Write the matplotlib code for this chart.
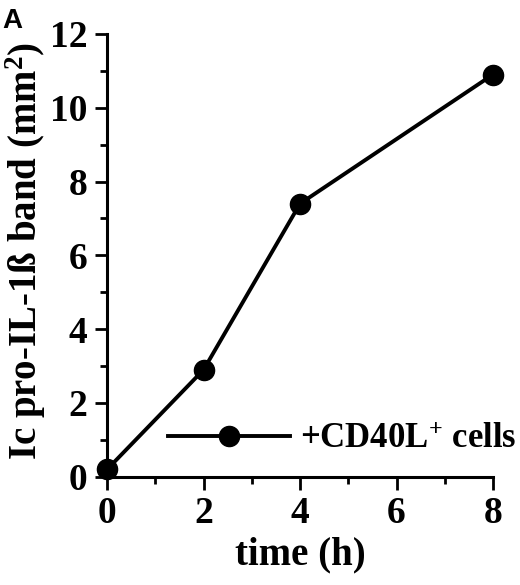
import matplotlib
matplotlib.use("Agg")
import matplotlib.pyplot as plt
from matplotlib.ticker import MultipleLocator

# datos
tiempo = [0, 2, 4, 8]
banda = [0.2, 2.9, 7.4, 10.9]
xticks = [0, 2, 4, 6, 8]
yticks = [0, 2, 4, 6, 8, 10, 12]

plt.rcParams['font.family'] = ['Liberation Serif', 'DejaVu Serif']
plt.rcParams['font.weight'] = 'bold'
plt.rcParams['mathtext.fontset'] = 'custom'
plt.rcParams['mathtext.rm'] = 'Liberation Serif:bold'
plt.rcParams['mathtext.it'] = 'Liberation Serif:bold'
plt.rcParams['mathtext.bf'] = 'Liberation Serif:bold'

fig = plt.figure(figsize=(5.2, 5.85), dpi=100)
ax = fig.add_axes([0.206, 0.185, 0.742, 0.757])

ax.plot(tiempo, banda, color='black', lw=2.8, marker='o', ms=14.5,
        label='+CD40L$^{+}$ cells', clip_on=False, zorder=5)

ax.set_xlim(0, 8)
ax.set_ylim(0, 12)
ax.set_xticks(xticks)
ax.set_yticks(yticks)
ax.xaxis.set_minor_locator(MultipleLocator(1))
ax.yaxis.set_minor_locator(MultipleLocator(1))
for s in ['top', 'right']:
    ax.spines[s].set_visible(False)
for s in ['left', 'bottom']:
    ax.spines[s].set_linewidth(2.2)
ax.tick_params(which='major', direction='out', length=9, width=2, labelsize=27, pad=5)
ax.tick_params(which='minor', direction='out', length=5, width=2)

ax.set_xlabel('time (h)', fontsize=28, fontweight='bold')
ax.set_ylabel('Ic pro-IL-1ß band (mm$^2$)', fontsize=28, fontweight='bold')
ax.xaxis.set_label_coords(0.5, -0.177)
ax.yaxis.set_label_coords(-0.212, 0.51)
ax.xaxis.label.set_va('center')
ax.yaxis.label.set_va('center')

ax.legend(loc='center left', bbox_to_anchor=(0.158, 0.0835), frameon=False,
          fontsize=25, handlelength=3.5, handletextpad=0.3, borderaxespad=0, borderpad=0)

fig.text(0.004, 0.986, 'A', fontsize=20, fontweight='bold', family='Liberation Sans',
         va='top', ha='left')

fig.savefig('out.png', dpi=100)
